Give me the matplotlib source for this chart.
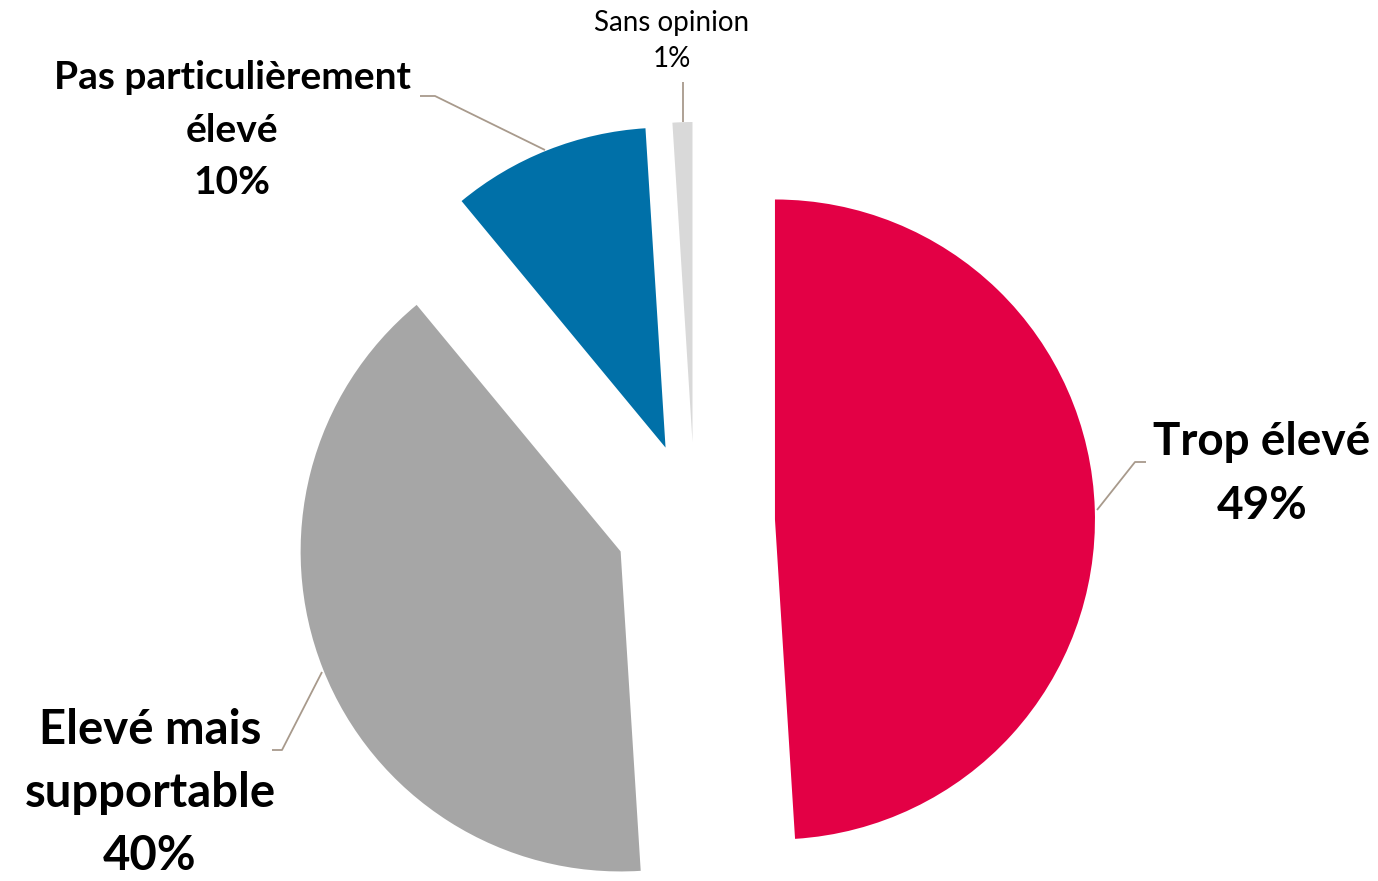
import matplotlib
matplotlib.use("Agg")
import matplotlib.pyplot as plt

labels = ["Trop élevé", "Elevé mais\nsupportable", "Pas particulièrement\nélevé", "Sans opinion"]
values = [49, 40, 10, 1]
colors = ["#E30045", "#A6A6A6", "#0070A8", "#D9D9D9"]

plt.rcParams['font.family'] = ['Lato', 'DejaVu Sans']

W, H = 1378, 881
fig = plt.figure(figsize=(W / 100, H / 100), dpi=100)
ax = fig.add_axes([0, 0, 1, 1])
center = (695, 359)
R = 320
ax.pie(values, colors=colors, startangle=90, counterclock=False,
       explode=[80] * len(values), radius=R, center=center,
       wedgeprops=dict(linewidth=0))
ax.set_xlim(0, W)
ax.set_ylim(0, H)
ax.set_aspect('equal')
ax.axis('off')

line_c = "#A89A8C"
# (text x, text y, fontsize, bold, linespacing, leader points)
specs = [
    (1262, 407, 33, 'bold', 1.65, [(1097, 371), (1135, 419), (1146, 419)]),
    (150, 88, 34, 'bold', 1.52, [(322, 209), (282, 131), (272, 131)]),
    (232, 751, 28, 'bold', 1.59, [(545, 731), (435, 785), (420, 785)]),
    (672, 840, 20, 'normal', 1.5, [(683, 759), (683, 799)]),
]
for (lab, v, (tx, ty, fs, fw, ls, pts)) in zip(labels, values, specs):
    ax.text(tx, ty, f"{lab}\n{v}%", ha='center', va='center', fontsize=fs,
            fontweight=fw, linespacing=ls, color='black')
    xs = [p[0] for p in pts]
    ys = [p[1] for p in pts]
    ax.plot(xs, ys, color=line_c, lw=1.3, solid_capstyle='butt')

fig.savefig("out.png", dpi=100, facecolor='white')
